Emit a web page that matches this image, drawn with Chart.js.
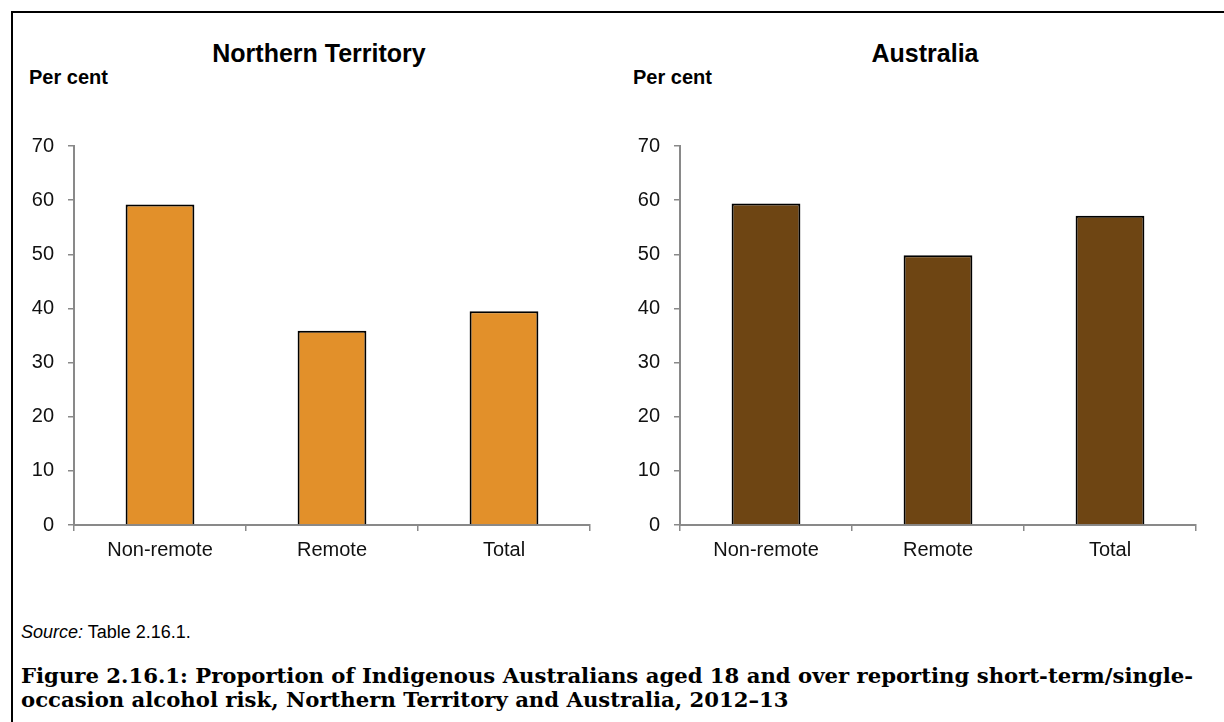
<!DOCTYPE html>
<html>
<head>
<meta charset="utf-8">
<script src="https://cdn.jsdelivr.net/npm/chart.js@4/dist/chart.umd.min.js"></script>
<style>
  body { margin: 0; background: #fff; width: 1224px; height: 722px; overflow: hidden; position: relative; font-family: "Liberation Sans", Arial, sans-serif; }
  .frame { position: absolute; left: 11px; top: 11px; width: 1400px; height: 900px; border-left: 2px solid #000; border-top: 2px solid #000; }
  .title { position: absolute; width: 400px; text-align: center; font-weight: bold; font-size: 25px; line-height: 25px; top: 41px; color: #000; }
  .unit { position: absolute; font-weight: bold; font-size: 20px; line-height: 20px; top: 67px; color: #000; }
  canvas { position: absolute; top: 120px; }
  .source { position: absolute; left: 21px; top: 623px; font-size: 18px; line-height: 18px; color: #000; }
  .caption { position: absolute; left: 21px; top: 664px; font-family: "DejaVu Serif", serif; font-weight: bold; font-size: 21.2px; line-height: 24px; color: #000; white-space: nowrap; }
</style>
</head>
<body>
<div class="frame"></div>

<div class="title" style="left:119px">Northern Territory</div>
<div class="unit" style="left:29px">Per cent</div>
<canvas id="chNT" width="600" height="450" style="left:0px"></canvas>

<div class="title" style="left:725px">Australia</div>
<div class="unit" style="left:633px">Per cent</div>
<canvas id="chAus" width="610" height="450" style="left:600px"></canvas>

<div class="source"><i>Source:</i> Table 2.16.1.</div>
<div class="caption">Figure 2.16.1: Proportion of Indigenous Australians aged 18 and over reporting short-term/single-<br>occasion alcohol risk, Northern Territory and Australia, 2012–13</div>

<script>
// data
var categories = ['Non-remote', 'Remote', 'Total'];
var ntValues = [59.2, 35.9, 39.5];
var ausValues = [59.4, 49.8, 57.1];
var yTicks = [0, 10, 20, 30, 40, 50, 60, 70];

// colors
var axisGrey = '#898989';
var ntColor = '#E2902A';
var ausColor = '#6E4513';

Chart.defaults.font.family = '"Liberation Sans", Arial, sans-serif';
Chart.defaults.color = '#111';

function makeChart(id, values, color, axisWidth, padRight) {
  return new Chart(document.getElementById(id), {
    type: 'bar',
    data: {
      labels: categories,
      datasets: [{
        data: values,
        backgroundColor: color,
        borderColor: '#000',
        borderWidth: 2,
        categoryPercentage: 1,
        barPercentage: 0.4
      }]
    },
    options: {
      responsive: false,
      animation: false,
      devicePixelRatio: 1,
      layout: { padding: { top: 24, right: padRight, left: 0, bottom: 0 } },
      plugins: { legend: { display: false }, tooltip: { enabled: false } },
      scales: {
        x: {
          grid: { drawOnChartArea: false, drawTicks: true, tickLength: 6, color: axisGrey, lineWidth: 1.5, offset: true },
          border: { color: axisGrey, width: 2 },
          ticks: { font: { size: 20 }, padding: 7, color: '#111' },
          afterFit: function (scale) { scale.height = 45; }
        },
        y: {
          min: yTicks[0],
          max: yTicks[yTicks.length - 1],
          grid: { drawOnChartArea: false, drawTicks: true, tickLength: 6, color: axisGrey, lineWidth: 1.5 },
          border: { color: axisGrey, width: 2 },
          ticks: { stepSize: 10, font: { size: 20 }, padding: 14, color: '#111' },
          afterFit: function (scale) { scale.width = axisWidth; }
        }
      }
    }
  });
}

makeChart('chNT', ntValues, ntColor, 74, 10);
makeChart('chAus', ausValues, ausColor, 80, 14);
</script>
</body>
</html>
